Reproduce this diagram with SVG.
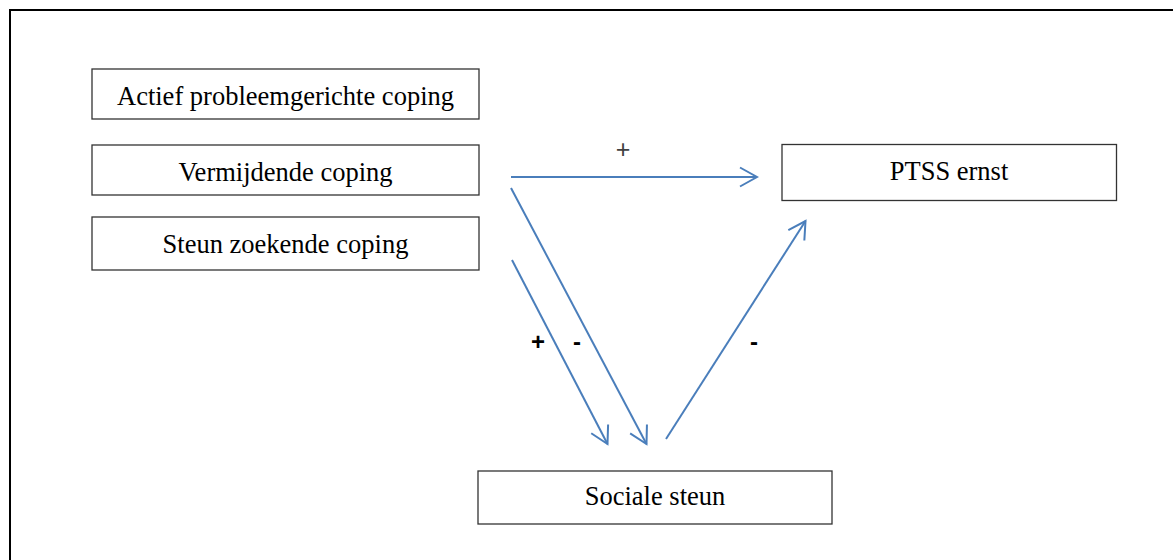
<svg xmlns="http://www.w3.org/2000/svg" width="1173" height="560" viewBox="0 0 1173 560">
<style>
.box{fill:#fff;stroke:#333;stroke-width:1.3}
.t{font-family:"Liberation Serif","Times New Roman",serif;font-size:26.5px;fill:#000;text-anchor:middle}
.c{fill:none;stroke:#4a7ebb;stroke-width:2}
.lb{font-family:"Liberation Sans",Arial,sans-serif;font-size:24px;font-weight:bold;fill:#000;text-anchor:middle}
.lp{font-family:"Liberation Sans",Arial,sans-serif;font-size:25px;fill:#404040;text-anchor:middle}
</style>
<defs>
<marker id="ah" markerUnits="userSpaceOnUse" viewBox="-20 -12 22 24" refX="0" refY="0" markerWidth="22" markerHeight="24" orient="auto">
<path d="M-17,-9.5 L0,0 L-17,9.5" fill="none" stroke="#4a7ebb" stroke-width="2"/>
</marker>
</defs>
<rect width="1173" height="560" fill="#fff"/>
<rect x="10" y="10" width="1180" height="570" fill="none" stroke="#000" stroke-width="2"/>
<g id="n-actief"><rect class="box" x="92" y="69" width="387" height="50"/><text class="t" x="285.5" y="105">Actief probleemgerichte coping</text></g>
<g id="n-vermijdende"><rect class="box" x="92" y="145" width="387" height="50"/><text class="t" x="285.5" y="180.5">Vermijdende coping</text></g>
<g id="n-steun"><rect class="box" x="92" y="217" width="387" height="53"/><text class="t" x="285.5" y="253">Steun zoekende coping</text></g>
<g id="n-ptss"><rect class="box" x="782" y="144.5" width="334.5" height="56"/><text class="t" x="949" y="180">PTSS ernst</text></g>
<g id="n-sociale"><rect class="box" x="478" y="471" width="354" height="53"/><text class="t" x="655" y="505">Sociale steun</text></g>
<g id="connectors">
<line class="c" x1="511" y1="177" x2="757" y2="177" marker-end="url(#ah)"/>
<line class="c" x1="511" y1="188" x2="646.5" y2="444" marker-end="url(#ah)"/>
<line class="c" x1="512" y1="260" x2="607.5" y2="444" marker-end="url(#ah)"/>
<line class="c" x1="666" y1="439" x2="805.5" y2="221" marker-end="url(#ah)"/>
</g>
<g id="labels">
<text class="lp" x="623" y="158">+</text>
<text class="lb" x="538" y="350">+</text>
<text class="lb" x="577" y="350">-</text>
<text class="lb" x="754" y="350">-</text>
</g>
</svg>
